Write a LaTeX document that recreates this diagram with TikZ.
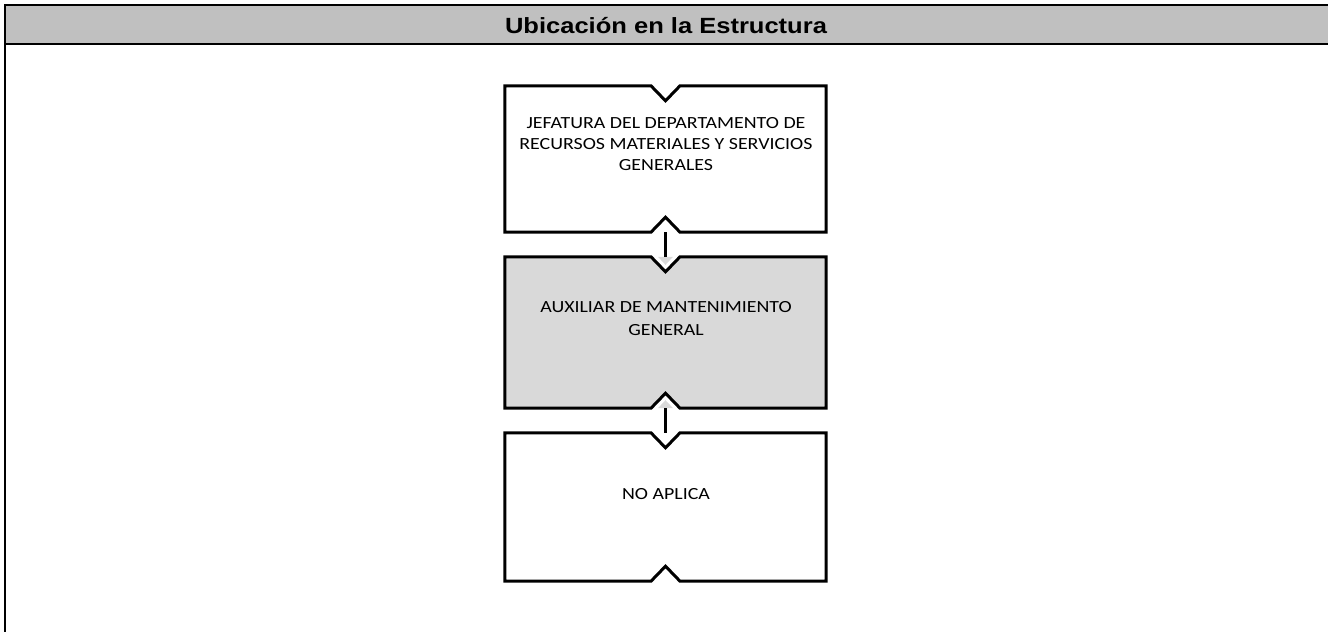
\documentclass[tikz,border=0pt]{standalone}
\usepackage{fontspec}
\newfontfamily\headfont[FakeStretch=1.16]{Liberation Sans}
\newfontfamily\boxfont[FakeStretch=1.17]{Carlito}
\usetikzlibrary{calc}
\definecolor{headgray}{RGB}{192,192,192}
\definecolor{boxgray}{RGB}{217,217,217}
\tikzset{
  orgbox/.style={minimum width=321pt, inner sep=0pt, draw=none},
  boxline/.style={line width=3pt, line join=miter},
  conn/.style={line width=3pt},
  boxtext/.style={font=\boxfont\fontsize{17}{21}\selectfont, align=center, anchor=north, inner sep=0pt},
  frameline/.style={line width=2pt},
}
\newcommand\notchpath[1]{(#1.north west) -- ($(#1.north)+(-14.5,0)$) -- ($(#1.north)+(0,15)$) -- ($(#1.north)+(14.5,0)$) -- (#1.north east) -- (#1.south east) -- ($(#1.south)+(14.5,0)$) -- ($(#1.south)+(0,-15)$) -- ($(#1.south)+(-14.5,0)$) -- (#1.south west) -- cycle}
\begin{document}
\begin{tikzpicture}[x=1pt,y=-1pt]
\useasboundingbox[fill=white] (0,0) rectangle (1328,632);
% header and frame
\fill[headgray] (5,5) rectangle (1328,44);
\draw[line width=1.5pt] (5,5) -- (1328,5);
\draw[line width=2.5pt] (4,44) -- (1328,44);
\draw[frameline] (5,4.25) -- (5,632);
\node[font=\headfont\bfseries\fontsize{22}{26}\selectfont, anchor=base, inner sep=0pt] (title) at (666,33.3) {Ubicación en la Estructura};
% boxes
\node[orgbox, minimum height=146pt] (b1) at (665.5,159) {};
\node[orgbox, minimum height=151pt] (b2) at (665.5,332.5) {};
\node[orgbox, minimum height=148pt] (b3) at (665.5,507) {};
\draw[boxline, fill=white] \notchpath{b1};
\fill[boxgray] \notchpath{b2};
\fill[boxgray] ($(b2.north)+(-7.5,0)$) -- ($(b2.north)+(7.5,0)$) -- ($(b2.north)+(0,8)$) -- cycle;
\fill[boxgray] ($(b2.south)+(-7.5,0)$) -- ($(b2.south)+(7.5,0)$) -- ($(b2.south)+(0,-8)$) -- cycle;
\draw[boxline] \notchpath{b2};
\draw[boxline, fill=white] \notchpath{b3};
% texts
\node[boxtext] (t1) at (666,117.3) {JEFATURA DEL DEPARTAMENTO DE\\RECURSOS MATERIALES Y SERVICIOS\\GENERALES};
\node[boxtext, font=\boxfont\fontsize{17}{23}\selectfont] (t2) at (666,301.7) {AUXILIAR DE MANTENIMIENTO\\GENERAL};
\node[boxtext] (t3) at (666,488.3) {NO APLICA};
% connectors
\draw[conn] (b1.south) -- (b2.north);
\draw[conn] (b2.south) -- (b3.north);
\end{tikzpicture}
\end{document}
